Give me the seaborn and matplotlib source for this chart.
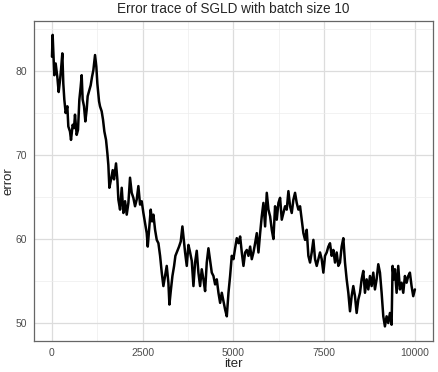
import pandas as pd
import matplotlib.pyplot as plt
import seaborn as sns
from matplotlib.ticker import MultipleLocator

# ── Trace values ────────────────────────────────────────
iters = [0, 18, 64, 101, 147, 184, 221, 248, 285, 312, 340, 377, 423, 450, 496, 524,
         570, 607, 634, 680, 717, 754, 790, 818, 845, 882, 919, 956, 983, 1029, 1066,
         1103, 1140, 1186, 1222, 1250, 1296, 1323, 1369, 1406, 1443, 1489, 1526, 1553,
         1581, 1627, 1673, 1709, 1764, 1801, 1829, 1875, 1921, 1967, 2013, 2059, 2105,
         2150, 2196, 2242, 2288, 2334, 2380, 2426, 2472, 2518, 2564, 2610, 2638, 2674,
         2720, 2757, 2794, 2840, 2886, 2932, 2978, 3024, 3069, 3115, 3161, 3207, 3235,
         3272, 3318, 3364, 3400, 3455, 3501, 3547, 3593, 3621, 3667, 3713, 3759, 3805,
         3851, 3897, 3942, 3988, 4034, 4080, 4126, 4172, 4218, 4264, 4310, 4356, 4402,
         4448, 4494, 4540, 4586, 4632, 4678, 4724, 4770, 4816, 4862, 4907, 4953, 4999,
         5045, 5091, 5138, 5183, 5229, 5275, 5321, 5367, 5413, 5459, 5504, 5550, 5596,
         5642, 5688, 5734, 5779, 5825, 5871, 5917, 5963, 6009, 6055, 6100, 6146, 6192,
         6238, 6284, 6330, 6375, 6421, 6467, 6513, 6559, 6605, 6651, 6696, 6742, 6788,
         6834, 6880, 6926, 6972, 7017, 7063, 7109, 7155, 7201, 7247, 7293, 7338, 7384,
         7430, 7476, 7522, 7568, 7614, 7659, 7705, 7751, 7797, 7843, 7889, 7934, 7980,
         8026, 8072, 8118, 8164, 8210, 8255, 8301, 8347, 8393, 8439, 8485, 8530, 8576,
         8622, 8668, 8714, 8760, 8806, 8851, 8897, 8943, 8989, 9035, 9081, 9127, 9172,
         9218, 9264, 9310, 9356, 9383, 9420, 9448, 9494, 9539, 9585, 9631, 9677, 9723,
         9769, 9815, 9860, 9906, 9952, 9998]
errors = [81.7, 84.3, 79.5, 80.9, 79.3, 77.5, 78.9, 80.1, 82.1, 78.5, 76.6, 75.0, 75.8,
          73.4, 72.8, 71.8, 73.6, 73.2, 74.8, 72.4, 73.0, 76.6, 78.1, 79.5, 76.6, 75.8,
          74.0, 75.4, 77.0, 77.7, 78.3, 79.3, 80.1, 81.9, 80.5, 78.5, 76.4, 75.8, 75.2,
          74.2, 72.8, 71.8, 70.2, 68.8, 66.1, 67.1, 68.2, 67.1, 69.0, 67.1, 64.7, 63.5,
          66.1, 63.1, 64.5, 62.9, 64.3, 67.3, 65.5, 64.9, 63.9, 64.7, 66.3, 64.1, 64.5,
          63.1, 61.9, 60.7, 59.1, 61.1, 63.5, 62.1, 62.9, 61.1, 59.9, 59.5, 58.0, 56.0,
          54.4, 55.6, 56.8, 54.8, 52.2, 53.8, 55.6, 56.8, 58.0, 58.6, 59.1, 59.7, 61.5,
          60.3, 58.4, 56.8, 59.3, 58.4, 57.4, 54.4, 57.2, 58.6, 56.0, 54.4, 56.4, 55.2,
          53.8, 57.2, 58.9, 57.4, 56.0, 55.6, 54.6, 55.2, 53.6, 52.4, 53.6, 52.6, 51.6,
          50.8, 53.6, 55.6, 58.0, 57.6, 58.9, 60.1, 59.5, 60.3, 58.4, 56.8, 58.4, 58.7,
          58.0, 59.1, 57.6, 58.4, 59.5, 60.7, 58.4, 60.7, 62.7, 64.3, 61.5, 65.5, 63.5,
          62.7, 61.1, 60.0, 63.9, 62.3, 64.3, 64.9, 62.3, 63.1, 63.9, 63.5, 65.7, 63.9,
          63.1, 64.7, 65.5, 64.3, 63.5, 63.9, 62.3, 60.7, 59.9, 61.1, 58.0, 57.2, 58.4,
          59.9, 57.6, 56.8, 57.6, 58.4, 57.6, 56.0, 58.0, 58.4, 59.1, 59.5, 58.0, 58.7,
          57.2, 58.4, 56.8, 57.2, 59.1, 60.1, 57.2, 55.2, 53.6, 51.4, 53.2, 54.4, 53.2,
          51.2, 52.8, 53.6, 55.2, 56.2, 53.6, 55.2, 54.0, 55.6, 54.4, 56.0, 54.0, 55.2,
          57.0, 56.0, 53.6, 50.8, 49.6, 50.8, 50.0, 51.2, 49.8, 56.8, 55.2, 56.4, 53.6,
          56.8, 54.0, 54.8, 53.6, 55.6, 54.8, 55.6, 56.0, 54.4, 53.2, 54.0]

df = pd.DataFrame({'iter': iters, 'error': errors})

# ── Theme (ggplot theme_bw look) ────────────────────────
sns.set_theme(style='whitegrid')
plt.rcParams['font.family'] = ['Liberation Sans', 'DejaVu Sans']

fig = plt.figure(figsize=(4.39, 3.72), dpi=100)
ax = fig.add_axes([0.0774, 0.0833, 0.9089, 0.8602])

sns.lineplot(data=df, x='iter', y='error', color='black', linewidth=1.8,
             estimator=None, ax=ax)

ax.set_xlim(-496, 10496)
ax.set_ylim(47.86, 85.95)
ax.set_xticks([0, 2500, 5000, 7500, 10000])
ax.set_xticklabels(['0', '2500', '5000', '7500', '10000'])
ax.set_yticks([50, 60, 70, 80])
ax.xaxis.set_minor_locator(MultipleLocator(1250))
ax.yaxis.set_minor_locator(MultipleLocator(5))

ax.grid(which='major', color='#dcdcdc', linewidth=0.9)
ax.grid(which='minor', color='#ededed', linewidth=0.5)
for s in ax.spines.values():
    s.set_color('#666666')
    s.set_linewidth(0.9)

ax.tick_params(axis='both', which='major', length=3, width=0.7, color='#666666',
               labelsize=7.5, labelcolor='#4d4d4d', pad=2)
ax.tick_params(which='minor', length=0)
ax.set_xlabel('iter', fontsize=9.5, labelpad=0)
ax.set_ylabel('error', fontsize=9.5, labelpad=1)
ax.set_title('Error trace of SGLD with batch size 10', fontsize=9.8, pad=6)

plt.savefig('out.png', dpi=100)
